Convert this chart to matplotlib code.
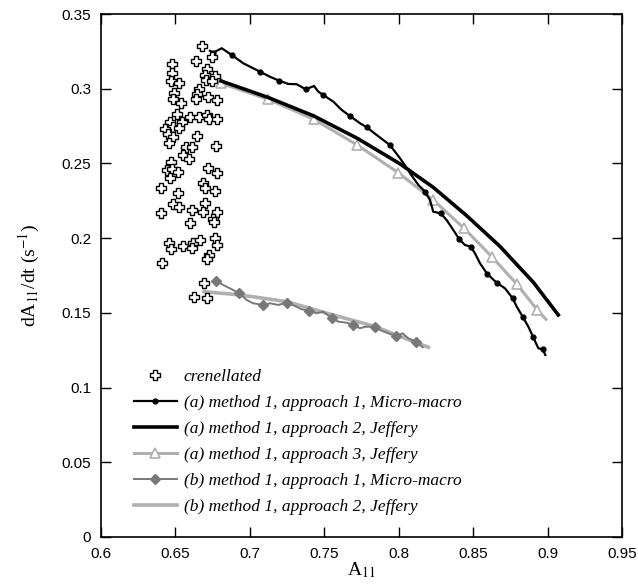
import numpy as np
import matplotlib.pyplot as plt

plt.rcParams['mathtext.fontset'] = 'stix'

# crenellated (scatter)
cren_x = [0.6677, 0.6744, 0.6638, 0.6479, 0.6475, 0.6714, 0.6699, 0.6766, 0.6470, 0.6524,
          0.6705, 0.6744, 0.6658, 0.6647, 0.6638, 0.6721, 0.6777, 0.6492, 0.6486, 0.6535,
          0.6513, 0.6598, 0.6660, 0.6714, 0.6728, 0.6781, 0.6464, 0.6542, 0.6486, 0.6526,
          0.6430, 0.6452, 0.6486, 0.6643, 0.6459, 0.6773, 0.6571, 0.6609, 0.6553, 0.6591,
          0.6468, 0.6441, 0.6475, 0.6519, 0.6464, 0.6721, 0.6777, 0.6683, 0.6699, 0.6766,
          0.6401, 0.6519, 0.6486, 0.6526, 0.6609, 0.6699, 0.6683, 0.6777, 0.6401, 0.6754,
          0.6598, 0.6759, 0.6459, 0.6468, 0.6553, 0.6616, 0.6665, 0.6609, 0.6766, 0.6777,
          0.6728, 0.6714, 0.6408, 0.6692, 0.6625, 0.6710]
cren_y = [0.3286, 0.3214, 0.3187, 0.3165, 0.3103, 0.3130, 0.3092, 0.3085, 0.3054, 0.3036,
          0.3058, 0.3054, 0.2996, 0.2965, 0.2929, 0.2947, 0.2924, 0.2969, 0.2929, 0.2906,
          0.2831, 0.2809, 0.2809, 0.2824, 0.2795, 0.2795, 0.2779, 0.2779, 0.2746, 0.2735,
          0.2728, 0.2697, 0.2679, 0.2684, 0.2639, 0.2617, 0.2608, 0.2608, 0.2556, 0.2528,
          0.2512, 0.2456, 0.2461, 0.2445, 0.2400, 0.2467, 0.2434, 0.2367, 0.2334, 0.2318,
          0.2334, 0.2300, 0.2229, 0.2210, 0.2188, 0.2237, 0.2177, 0.2177, 0.2170, 0.2126,
          0.2099, 0.2110, 0.1970, 0.1925, 0.1947, 0.1970, 0.1988, 0.1932, 0.1999, 0.1954,
          0.1887, 0.1858, 0.1836, 0.1702, 0.1608, 0.1597]

# (a) method 1, approach 1, Micro-macro
a1_x = [0.6732, 0.6754, 0.6811, 0.6878, 0.6956, 0.7068, 0.7135, 0.7196, 0.7258, 0.7315,
        0.7375, 0.7431, 0.7460, 0.7493, 0.7561, 0.7617, 0.7673, 0.7740, 0.7785, 0.7852,
        0.7941, 0.8009, 0.8064, 0.8076, 0.8132, 0.8177, 0.8210, 0.8232, 0.8282, 0.8322,
        0.8367, 0.8407, 0.8445, 0.8484, 0.8512, 0.8546, 0.8595, 0.8658, 0.8714, 0.8766,
        0.8793, 0.8833, 0.8871, 0.8904, 0.8938, 0.8967, 0.8985]
a1_y = [0.3254, 0.3241, 0.3271, 0.3226, 0.3170, 0.3114, 0.3080, 0.3054, 0.3032, 0.3030,
        0.2996, 0.3018, 0.2980, 0.2958, 0.2913, 0.2858, 0.2817, 0.2769, 0.2742, 0.2690,
        0.2623, 0.2534, 0.2456, 0.2434, 0.2356, 0.2311, 0.2255, 0.2177, 0.2166, 0.2121,
        0.2054, 0.1992, 0.1954, 0.1943, 0.1899, 0.1832, 0.1760, 0.1702, 0.1664, 0.1597,
        0.1541, 0.1474, 0.1407, 0.1336, 0.1263, 0.1256, 0.1218]
a1_marks = [1, 3, 5, 7, 10, 13, 16, 18, 20, 25, 28, 31, 33, 36, 37, 39, 41, 43, 45]

# (a) method 1, approach 2, Jeffery
a2_x = [0.6806, 0.7124, 0.7431, 0.7722, 0.8009, 0.8232, 0.8457, 0.8680, 0.8904, 0.9072]
a2_y = [0.3052, 0.2941, 0.2817, 0.2668, 0.2497, 0.2340, 0.2150, 0.1945, 0.1705, 0.1486]

# (a) method 1, approach 3, Jeffery
a3_x = [0.6806, 0.7124, 0.7431, 0.7722, 0.7997, 0.8232, 0.8439, 0.8625, 0.8793, 0.8931, 0.8989]
a3_y = [0.3036, 0.2929, 0.2795, 0.2623, 0.2438, 0.2255, 0.2066, 0.1876, 0.1693, 0.1519, 0.1457]

# (b) method 1, approach 1, Micro-macro
b1_x = [0.6773, 0.6822, 0.6878, 0.6929, 0.6979, 0.7023, 0.7086, 0.7135, 0.7191, 0.7248,
        0.7303, 0.7348, 0.7399, 0.7449, 0.7493, 0.7550, 0.7594, 0.7651, 0.7695, 0.7740,
        0.7774, 0.7841, 0.7874, 0.7930, 0.7980, 0.8027, 0.8064, 0.8114, 0.8161]
b1_y = [0.1715, 0.1686, 0.1658, 0.1631, 0.1586, 0.1564, 0.1553, 0.1564, 0.1553, 0.1568,
        0.1546, 0.1524, 0.1514, 0.1497, 0.1508, 0.1464, 0.1441, 0.1434, 0.1419, 0.1397,
        0.1407, 0.1407, 0.1385, 0.1363, 0.1345, 0.1363, 0.1330, 0.1307, 0.1270]

# (b) method 1, approach 2, Jeffery
b2_x = [0.6692, 0.6934, 0.7248, 0.7538, 0.7829, 0.8199]
b2_y = [0.1642, 0.1620, 0.1575, 0.1492, 0.1412, 0.1270]

LGRAY = '#b0b0b0'
DGRAY = '#787878'

fig = plt.figure(figsize=(6.38, 5.87), dpi=100)
ax = fig.add_axes([101 / 638, 50 / 587, 521 / 638, 523 / 587])

ax.plot(cren_x, cren_y, linestyle='none', marker='P', markersize=7,
        markerfacecolor='white', markeredgecolor='black', markeredgewidth=1.0,
        label='crenellated', zorder=5)
ax.plot(a1_x, a1_y, color='black', linewidth=1.6, marker='o', markersize=3.5,
        markevery=a1_marks, label='(a) method 1, approach 1, Micro-macro', zorder=4)
ax.plot(a2_x, a2_y, color='black', linewidth=2.6,
        label='(a) method 1, approach 2, Jeffery', zorder=3)
ax.plot(a3_x, a3_y, color=LGRAY, linewidth=2.2, marker='^', markersize=7,
        markerfacecolor='white', markeredgecolor=LGRAY, markeredgewidth=1.2,
        markevery=list(range(10)), label='(a) method 1, approach 3, Jeffery', zorder=2)
ax.plot(b1_x, b1_y, color=DGRAY, linewidth=1.4, marker='D', markersize=5.5,
        markevery=3, label='(b) method 1, approach 1, Micro-macro', zorder=3)
ax.plot(b2_x, b2_y, color=LGRAY, linewidth=2.6,
        label='(b) method 1, approach 2, Jeffery', zorder=2)

ax.set_xlim(0.6, 0.95)
ax.set_ylim(0, 0.35)
ax.set_xticks(np.arange(0.6, 0.951, 0.05))
ax.set_yticks(np.arange(0, 0.351, 0.05))
ax.set_xticklabels(['0.6', '0.65', '0.7', '0.75', '0.8', '0.85', '0.9', '0.95'])
ax.set_yticklabels(['0', '0.05', '0.1', '0.15', '0.2', '0.25', '0.3', '0.35'])
ax.tick_params(direction='in', length=7, width=1, top=True, right=True,
               labelsize=11, pad=7)
for lab in ax.get_xticklabels() + ax.get_yticklabels():
    lab.set_fontfamily('Liberation Sans')
for spine in ax.spines.values():
    spine.set_linewidth(1.2)

ax.set_xlabel(r'A$_{11}$', fontsize=14, fontfamily='Liberation Serif', labelpad=0)
ax.set_ylabel(r'dA$_{11}$/dt (s$^{-1}$)', fontsize=14, fontfamily='Liberation Serif',
              labelpad=14)

leg = ax.legend(loc='lower left', bbox_to_anchor=(0.046, 0.025), frameon=False,
                borderpad=0, handlelength=2.5, handletextpad=0.38, labelspacing=0.57,
                prop={'family': 'Liberation Serif', 'style': 'italic', 'size': 12.5})

fig.savefig('out.png', dpi=100)
